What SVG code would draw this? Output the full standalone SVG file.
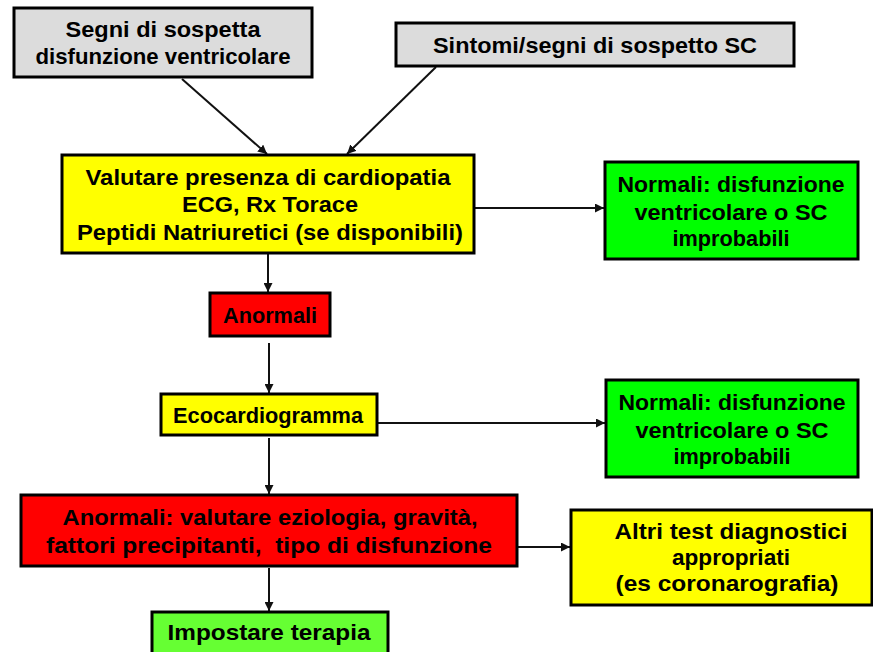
<svg xmlns="http://www.w3.org/2000/svg" width="873" height="652" viewBox="0 0 873 652">
<defs>
<style>
.box{stroke:#000;stroke-width:3}
.gray{fill:#dcdcdc}
.yel{fill:#ffff00}
.grn{fill:#00ff00}
.lgrn{fill:#66ff33}
.red{fill:#ff0000}
text{font-family:"Liberation Sans",Arial,sans-serif;font-weight:bold;font-size:22px;fill:#000;text-anchor:middle}
.conn{stroke:#111;stroke-width:2;fill:none;marker-end:url(#ah)}
</style>
<marker id="ah" viewBox="0 0 10 10" refX="10" refY="5" markerWidth="4.5" markerHeight="4.5" orient="auto" markerUnits="strokeWidth">
<path d="M0,0 L10,5 L0,10 z" fill="#111"/>
</marker>
</defs>
<rect width="873" height="652" fill="#fff"/>
<g id="connectors">
<line class="conn" x1="182" y1="79" x2="267" y2="154"/>
<line class="conn" x1="436" y1="67" x2="347" y2="154"/>
<line class="conn" x1="475" y1="208" x2="604" y2="208"/>
<line class="conn" x1="268" y1="254" x2="268" y2="292"/>
<line class="conn" x1="269" y1="343" x2="269" y2="393"/>
<line class="conn" x1="378" y1="423" x2="605" y2="423"/>
<line class="conn" x1="269" y1="438" x2="269" y2="494"/>
<line class="conn" x1="518" y1="547" x2="570" y2="547"/>
<line class="conn" x1="269" y1="568" x2="269" y2="611"/>
</g>
<g id="n1">
<rect class="box gray" x="14" y="8" width="298" height="69"/>
<text x="163" y="37" textLength="195" lengthAdjust="spacingAndGlyphs">Segni di sospetta</text>
<text x="163" y="64" textLength="255" lengthAdjust="spacingAndGlyphs">disfunzione ventricolare</text>
</g>
<g id="n2">
<rect class="box gray" x="396" y="23" width="398" height="43"/>
<text x="595" y="53" textLength="324" lengthAdjust="spacingAndGlyphs">Sintomi/segni di sospetto SC</text>
</g>
<g id="n3">
<rect class="box yel" x="62" y="155" width="412" height="98"/>
<text x="268" y="185" textLength="365" lengthAdjust="spacingAndGlyphs">Valutare presenza di cardiopatia</text>
<text x="270" y="212" textLength="176" lengthAdjust="spacingAndGlyphs">ECG, Rx Torace</text>
<text x="270" y="240" textLength="386" lengthAdjust="spacingAndGlyphs">Peptidi Natriuretici (se disponibili)</text>
</g>
<g id="n4">
<rect class="box grn" x="605" y="162" width="253" height="97"/>
<text x="731" y="192" textLength="227" lengthAdjust="spacingAndGlyphs">Normali: disfunzione</text>
<text x="731" y="220" textLength="193" lengthAdjust="spacingAndGlyphs">ventricolare o SC</text>
<text x="731" y="246" textLength="117" lengthAdjust="spacingAndGlyphs">improbabili</text>
</g>
<g id="n5">
<rect class="box red" x="210" y="293" width="120" height="43"/>
<text x="270" y="323" textLength="94" lengthAdjust="spacingAndGlyphs">Anormali</text>
</g>
<g id="n6">
<rect class="box yel" x="161" y="394" width="216" height="41"/>
<text x="268" y="423" textLength="190" lengthAdjust="spacingAndGlyphs">Ecocardiogramma</text>
</g>
<g id="n7">
<rect class="box grn" x="606" y="380" width="252" height="97"/>
<text x="732" y="410" textLength="227" lengthAdjust="spacingAndGlyphs">Normali: disfunzione</text>
<text x="732" y="438" textLength="193" lengthAdjust="spacingAndGlyphs">ventricolare o SC</text>
<text x="732" y="464" textLength="117" lengthAdjust="spacingAndGlyphs">improbabili</text>
</g>
<g id="n8">
<rect class="box red" x="21" y="495" width="496" height="71"/>
<text x="270" y="525" textLength="415" lengthAdjust="spacingAndGlyphs">Anormali: valutare eziologia, gravità,</text>
<text x="269" y="553" textLength="446" lengthAdjust="spacingAndGlyphs" xml:space="preserve">fattori precipitanti,  tipo di disfunzione</text>
</g>
<g id="n9">
<rect class="box yel" x="571" y="510" width="301" height="95"/>
<text x="731" y="539" textLength="233" lengthAdjust="spacingAndGlyphs">Altri test diagnostici</text>
<text x="731" y="565" textLength="118" lengthAdjust="spacingAndGlyphs">appropriati</text>
<text x="727" y="591" textLength="223" lengthAdjust="spacingAndGlyphs">(es coronarografia)</text>
</g>
<g id="n10">
<rect class="box lgrn" x="152" y="612" width="236" height="46"/>
<text x="269" y="640" textLength="203" lengthAdjust="spacingAndGlyphs">Impostare terapia</text>
</g>
</svg>
